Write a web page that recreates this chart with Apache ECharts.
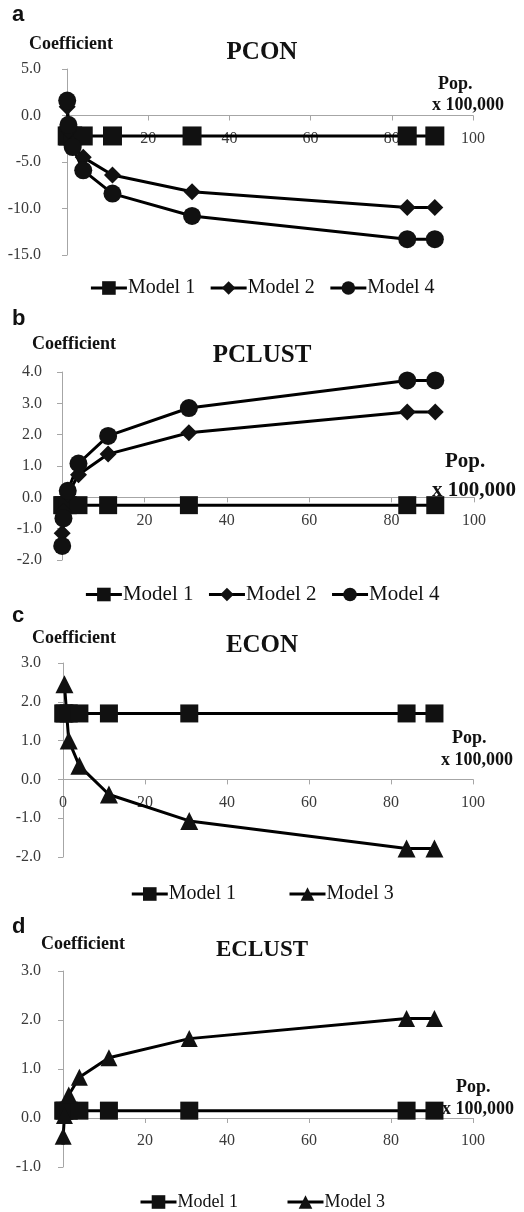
<!DOCTYPE html>
<html>
<head>
<meta charset="utf-8">
<script src="https://cdn.jsdelivr.net/npm/echarts@6/dist/echarts.min.js"></script>
<style>
body { margin: 0; background: #fff; }
.panel { width: 524px; height: 312px; position: relative; }
</style>
</head>
<body>
<div id="pa" class="panel" style="margin-bottom:-12px"></div>
<div id="pb" class="panel" style="margin-bottom:-12px"></div>
<div id="pc" class="panel" style="margin-bottom:-12px"></div>
<div id="pd" class="panel"></div>
<script>
// population (x 100,000)
var popX = [0.05, 0.35, 1.4, 4.0, 11.2, 30.8, 83.8, 90.6];
var econX = [0.35, 1.4, 4.0, 11.2, 30.8, 83.8, 90.6];
var xTicks = [0, 20, 40, 60, 80, 100];

var pconModel1 = [-2.2, -2.2, -2.2, -2.2, -2.2, -2.2, -2.2, -2.2];
var pconModel2 = [0.95, -1.6, -3.1, -4.5, -6.4, -8.2, -9.9, -9.9];
var pconModel4 = [1.6, -1.0, -3.4, -5.9, -8.4, -10.8, -13.3, -13.3];

var pclustModel1 = [-0.25, -0.25, -0.25, -0.25, -0.25, -0.25, -0.25, -0.25];
var pclustModel2 = [-1.15, -0.45, 0.1, 0.72, 1.38, 2.06, 2.72, 2.72];
var pclustModel4 = [-1.55, -0.67, 0.21, 1.08, 1.96, 2.85, 3.73, 3.73];

var econModel1 = [1.7, 1.7, 1.7, 1.7, 1.7, 1.7, 1.7, 1.7];
var econModel3 = [2.45, 1.0, 0.35, -0.39, -1.07, -1.78, -1.78];

var eclustModel1 = [0.15, 0.15, 0.15, 0.15, 0.15, 0.15, 0.15, 0.15];
var eclustModel3 = [-0.37, 0.05, 0.47, 0.83, 1.23, 1.62, 2.03, 2.03];

var serif = '"Liberation Serif", "DejaVu Serif", serif';

function pairs(xs, ys) {
	var out = [];
	for (var i = 0; i < ys.length; i++) {
		out.push([xs[i], ys[i]]);
	}
	return out;
}

function mkseries(name, symbol, size, xs, ys) {
	return {
		name: name,
		type: 'line',
		symbol: symbol,
		symbolSize: size,
		showAllSymbol: true,
		lineStyle: {color: '#000', width: 3},
		itemStyle: {color: '#111', borderWidth: 0},
		data: pairs(xs, ys)
	};
}

function initpanel(id, p) {
	// x axis sits on y = 0, its labels move with it
	var zeroOffset = -p.grid[3] * (0 - p.ymin) / (p.ymax - p.ymin);
	var option = {
		animation: false,
		title: {
			text: p.title,
			left: 'center',
			top: p.titleTop,
			textStyle: {fontFamily: serif, fontWeight: 'bold', fontSize: p.titleSize, color: '#111'}
		},
		legend: {
			data: p.legend,
			top: p.legendTop,
			left: 'center',
			padding: 0,
			itemWidth: 36,
			itemHeight: 17,
			itemGap: p.legendGap,
			lineStyle: {width: 3, color: '#000'},
			textStyle: {fontFamily: serif, fontSize: p.legendSize, color: '#111', padding: [0, 0, 0, -4]}
		},
		grid: {left: p.grid[0], top: p.grid[1], right: p.grid[2], height: p.grid[3]},
		graphic: [
			{type: 'text', left: 12, top: p.letterY, style: {text: p.letter, font: 'bold 22px "Liberation Sans", Arial, sans-serif', fill: '#111'}},
			{type: 'text', left: p.coefX, top: p.coefY, style: {text: 'Coefficient', font: 'bold 18px ' + serif, fill: '#111'}},
			{type: 'text', left: p.popX, top: p.popY, style: {text: 'Pop.', font: 'bold ' + p.popSize + 'px ' + serif, fill: '#111'}},
			{type: 'text', left: p.unitX, top: p.unitY, style: {text: 'x 100,000', font: 'bold ' + p.popSize + 'px ' + serif, fill: '#111'}}
		],
		xAxis: {
			type: 'value',
			min: xTicks[0],
			max: xTicks[xTicks.length - 1],
			interval: 20,
			offset: zeroOffset,
			axisLine: {show: true, onZero: false, lineStyle: {color: '#a6a6a6', width: 1}},
			axisTick: {show: true, length: 5, lineStyle: {color: '#a6a6a6'}},
			splitLine: {show: false},
			axisLabel: {margin: 15, fontFamily: serif, fontSize: 16, color: '#3a3a3a'}
		},
		yAxis: {
			type: 'value',
			min: p.ymin,
			max: p.ymax,
			interval: p.yint,
			axisLine: {show: true, onZero: false, lineStyle: {color: '#a6a6a6', width: 1}},
			axisTick: {show: true, length: 5, lineStyle: {color: '#a6a6a6'}},
			splitLine: {show: false},
			axisLabel: {
				margin: p.ymargin,
				fontFamily: serif,
				fontSize: 16,
				color: '#3a3a3a',
				formatter: function (v) { return v.toFixed(1); }
			}
		},
		series: p.series
	};
	var myChart = echarts.init(document.getElementById(id));
	myChart.setOption(option);
	return myChart;
}

initpanel('pa', {
	title: 'PCON', titleTop: 35, titleSize: 25,
	letter: 'a', letterY: 4,
	coefX: 29, coefY: 35,
	popX: 438, popY: 75, unitX: 432, unitY: 96, popSize: 18,
	grid: [67, 69, 51, 186],
	ymin: -15, ymax: 5, yint: 5, ymargin: 26,
	legend: ['Model 1', 'Model 2', 'Model 4'], legendTop: 278, legendGap: 14, legendSize: 20,
	series: [
		mkseries('Model 1', 'rect', 19, popX, pconModel1),
		mkseries('Model 2', 'diamond', 17, popX, pconModel2),
		mkseries('Model 4', 'circle', 18, popX, pconModel4)
	]
});

initpanel('pb', {
	title: 'PCLUST', titleTop: 38, titleSize: 25,
	letter: 'b', letterY: 8,
	coefX: 32, coefY: 35,
	popX: 445, popY: 151, unitX: 432, unitY: 180, popSize: 21,
	grid: [62, 72, 50, 188],
	ymin: -2, ymax: 4, yint: 1, ymargin: 20,
	legend: ['Model 1', 'Model 2', 'Model 4'], legendTop: 284, legendGap: 14, legendSize: 21,
	series: [
		mkseries('Model 1', 'rect', 18, popX, pclustModel1),
		mkseries('Model 2', 'diamond', 17, popX, pclustModel2),
		mkseries('Model 4', 'circle', 18, popX, pclustModel4)
	]
});

initpanel('pc', {
	title: 'ECON', titleTop: 28, titleSize: 25,
	letter: 'c', letterY: 5,
	coefX: 32, coefY: 29,
	popX: 452, popY: 129, unitX: 441, unitY: 151, popSize: 18,
	grid: [63, 63, 51, 194],
	ymin: -2, ymax: 3, yint: 1, ymargin: 22,
	legend: ['Model 1', 'Model 3'], legendTop: 284, legendGap: 52, legendSize: 20,
	series: [
		mkseries('Model 1', 'rect', 18, popX, econModel1),
		mkseries('Model 3', 'triangle', 18, econX, econModel3)
	]
});

initpanel('pd', {
	title: 'ECLUST', titleTop: 34, titleSize: 23,
	letter: 'd', letterY: 16,
	coefX: 41, coefY: 35,
	popX: 456, popY: 178, unitX: 442, unitY: 200, popSize: 18,
	grid: [63, 71, 51, 196],
	ymin: -1, ymax: 3, yint: 1, ymargin: 22,
	legend: ['Model 1', 'Model 3'], legendTop: 293, legendGap: 48, legendSize: 18,
	series: [
		mkseries('Model 1', 'rect', 18, popX, eclustModel1),
		mkseries('Model 3', 'triangle', 17, popX, eclustModel3)
	]
});
</script>
</body>
</html>
